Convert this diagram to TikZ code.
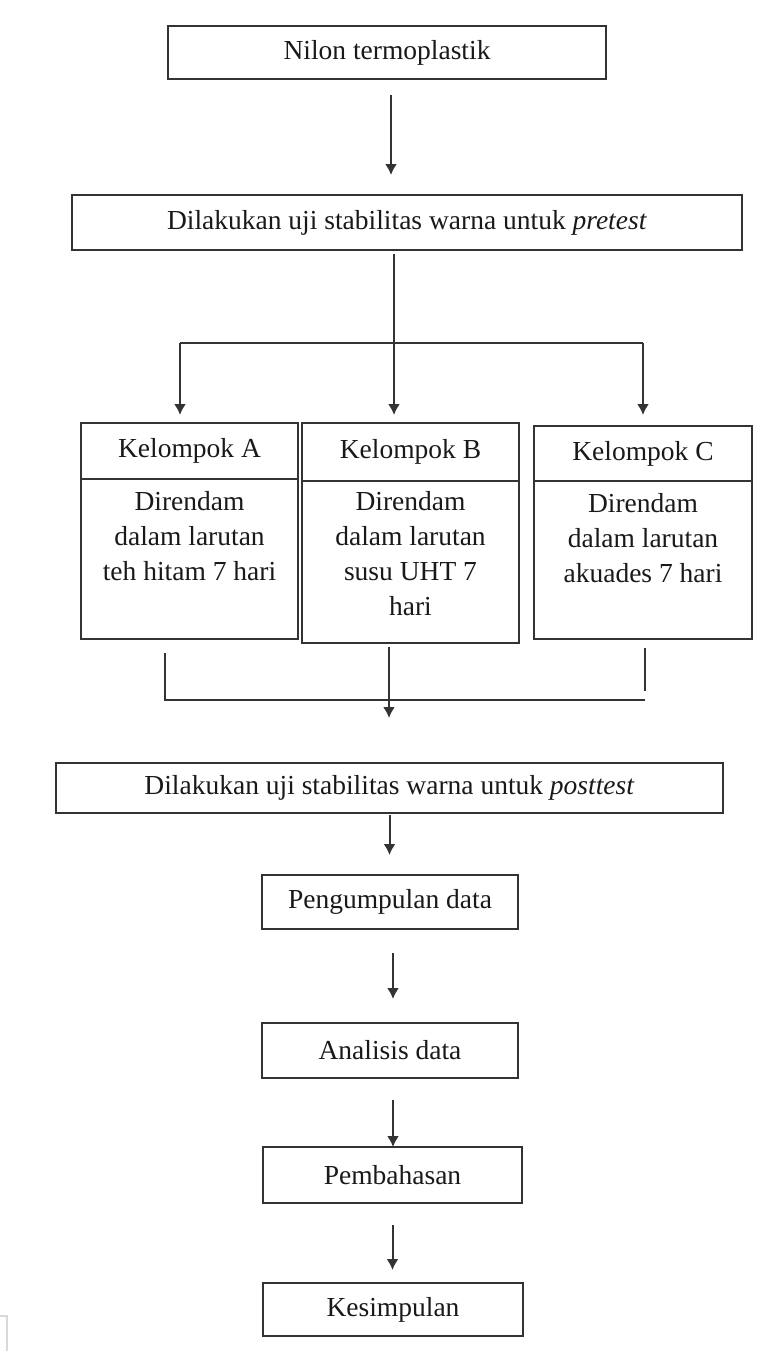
\documentclass[tikz,border=0pt]{standalone}
\usepackage{fontspec}
\setmainfont{Liberation Serif}
\usetikzlibrary{arrows.meta}
\begin{document}
\begin{tikzpicture}[x=0.5pt,y=-0.5pt,
    kotak/.style={draw=black!80, line width=1.3pt, text=black!90, inner sep=0pt, outer sep=0pt, align=center,
      font=\fontsize{13.75}{17.5}\selectfont},
    garis/.style={draw=black!80, line width=1pt},
    panah/.style={garis, -{Latex[length=5.5pt,width=6pt]}}]
\useasboundingbox (0,0) rectangle (781,1351);
% alur atas
\node[kotak, minimum width=219pt, minimum height=26.5pt] (nilon) at (387,52.5) {Nilon termoplastik};
\node[kotak, minimum width=335pt, minimum height=27.5pt] (pre) at (407,222.5) {Dilakukan uji stabilitas warna untuk \textit{pretest}};
\draw[panah, shorten <=8pt, shorten >=10pt] ([xshift=2pt]nilon.south) -- ([xshift=2pt]nilon.south |- pre.north);
% kelompok
\node[kotak, minimum width=108.5pt, minimum height=28pt] (kelA) at (189.5,451) {Kelompok A};
\node[kotak, minimum width=108.5pt, minimum height=29pt] (kelB) at (410.5,452) {Kelompok B};
\node[kotak, minimum width=109pt, minimum height=27.5pt] (kelC) at (643,453.5) {Kelompok C};
\node[kotak, anchor=north] (isiA) at (kelA.south) {\parbox[t][80pt][t]{108.5pt}{\centering\vspace*{6pt}Direndam\\dalam larutan\\teh hitam 7 hari}};
\node[kotak, anchor=north] (isiB) at (kelB.south) {\parbox[t][81pt][t]{108.5pt}{\centering\vspace*{5pt}Direndam\\dalam larutan\\susu UHT 7\\hari}};
\node[kotak, anchor=north] (isiC) at (kelC.south) {\parbox[t][79pt][t]{109pt}{\centering\vspace*{6pt}Direndam\\dalam larutan\\akuades 7 hari}};
% cabang
\coordinate (cabA) at (180,343);
\coordinate (cabB) at (394,343);
\coordinate (cabC) at (643,343);
\draw[garis, shorten <=2pt] (cabB |- pre.south) -- (cabB);
\draw[garis] (cabA) -- (cabC);
\draw[panah, shorten >=4pt] (cabA) -- (cabA |- kelA.north);
\draw[panah, shorten >=4pt] (cabB) -- (cabB |- kelB.north);
\draw[panah, shorten >=5.5pt] (cabC) -- (cabC |- kelC.north);
% gabung
\node[kotak, minimum width=333.5pt, minimum height=25pt] (post) at (389.5,788) {Dilakukan uji stabilitas warna untuk \textit{posttest}};
\coordinate (gabA) at (165,700);
\coordinate (gabB) at (389,700);
\coordinate (gabC) at (645,700);
\coordinate (ujungC) at (645,691);
\draw[garis, shorten <=7pt] (gabA |- isiA.south) -- (gabA) -- (gabC);
\draw[garis, shorten <=4.5pt] (gabC |- isiC.south) -- (ujungC);
\draw[panah, shorten <=2pt, shorten >=22.5pt] (gabB |- isiB.south) -- (gabB |- post.north);
% alur bawah
\node[kotak, minimum width=128pt, minimum height=27pt] (kumpul) at (390,902) {Pengumpulan data};
\node[kotak, minimum width=128pt, minimum height=27.5pt] (analisis) at (390,1050.5) {Analisis data};
\node[kotak, minimum width=129.5pt, minimum height=28pt] (bahas) at (392.5,1175) {Pembahasan};
\node[kotak, minimum width=130pt, minimum height=26.5pt] (simpul) at (393,1309.5) {Kesimpulan};
\draw[panah, shorten <=1pt, shorten >=10pt] (post.south) -- (post.south |- kumpul.north);
\draw[panah, shorten <=12pt, shorten >=12pt] ([xshift=1.5pt]kumpul.south) -- ([xshift=1.5pt]kumpul.south |- analisis.north);
\draw[panah, shorten <=11pt] ([xshift=1.5pt]analisis.south) -- ([xshift=1.5pt]analisis.south |- bahas.north);
\draw[panah, shorten <=11pt, shorten >=6.5pt] (bahas.south) -- (bahas.south |- simpul.north);
% sudut pudar
\draw[black!15, line width=1pt] (0,1316) -- (7,1316) -- (7,1351);
\end{tikzpicture}
\end{document}
